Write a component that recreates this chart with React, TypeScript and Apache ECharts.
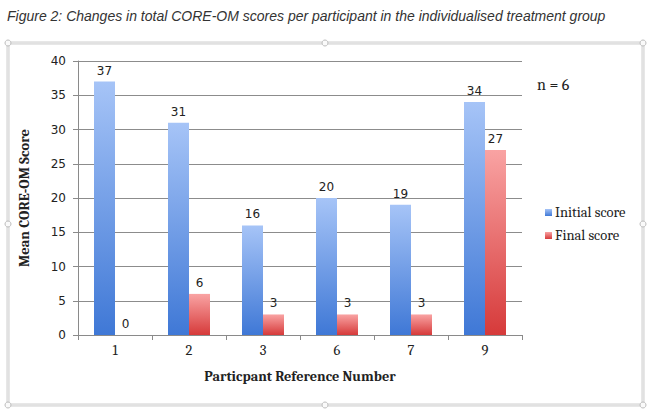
import { useEffect, useRef } from 'react';
import * as echarts from 'echarts';

const participants = ['1', '2', '3', '6', '7', '9'];
const initialScores = [37, 31, 16, 20, 19, 34];
const finalScores = [0, 6, 3, 3, 3, 27];
const seriesNames = ['Initial score', 'Final score'];

const SERIF = 'Cambria, "Liberation Serif", serif';
const SANS = 'Verdana, "DejaVu Sans", sans-serif';

const grad = (top: string, bottom: string) =>
  new echarts.graphic.LinearGradient(0, 0, 0, 1, [
    { offset: 0, color: top },
    { offset: 1, color: bottom },
  ]);

export default function App() {
  const ref = useRef<HTMLDivElement>(null);

  useEffect(() => {
    if (!ref.current) return;
    const chart = echarts.init(ref.current, null, { renderer: 'svg' });
    const handles = [
      [8, 43], [325, 43], [643, 43],
      [8, 224], [643, 224],
      [8, 405], [325, 405], [643, 405],
    ];
    chart.setOption({
      animation: false,
      backgroundColor: '#fff',
      title: {
        text: 'Figure 2: Changes in total CORE-OM scores per participant in the individualised treatment group',
        left: 2,
        top: 4,
        textStyle: {
          fontFamily: 'Arial, "Liberation Sans", sans-serif',
          fontStyle: 'italic',
          fontWeight: 'normal',
          fontSize: 14,
          color: '#333',
        },
      },
      graphic: [
        {
          type: 'rect',
          shape: { x: 8, y: 43, width: 635, height: 362 },
          style: { fill: 'none', stroke: '#cfcfcf', lineWidth: 3 },
          z: -1,
        },
        {
          type: 'rect',
          shape: { x: 8, y: 43, width: 635, height: 362 },
          style: { fill: 'none', stroke: '#f4f4f4', lineWidth: 1 },
          z: -1,
        },
        ...handles.map(([x, y]) => ({
          type: 'circle',
          shape: { cx: x, cy: y, r: 3 },
          style: { fill: '#fafafa', stroke: '#bdbdbd', lineWidth: 1 },
          z: 0,
        })),
        {
          type: 'text',
          left: 537,
          top: 77,
          style: { text: 'n = 6', font: `16px ${SERIF}`, fill: '#222' },
        },
      ],
      legend: {
        orient: 'vertical',
        left: 540,
        top: 200,
        itemWidth: 7,
        itemHeight: 7,
        itemGap: 8,
        icon: 'rect',
        textStyle: { fontFamily: SERIF, fontSize: 14.5, color: '#222', padding: [0, 0, 0, -2] },
        data: seriesNames,
      },
      grid: { left: 78, right: 128, top: 61, bottom: 76 },
      xAxis: {
        type: 'category',
        data: participants,
        name: 'Particpant Reference Number',
        nameLocation: 'middle',
        nameGap: 34,
        nameTextStyle: { fontFamily: SERIF, fontWeight: 'bold', fontSize: 14.3, color: '#222' },
        axisLine: { lineStyle: { color: '#8a8a8a' } },
        axisTick: { show: true, length: 5, lineStyle: { color: '#8a8a8a' } },
        axisLabel: { fontFamily: SERIF, fontSize: 14.5, color: '#222', margin: 8 },
      },
      yAxis: {
        type: 'value',
        min: 0,
        max: 40,
        interval: 5,
        name: 'Mean CORE-OM Score',
        nameLocation: 'middle',
        nameGap: 46,
        nameTextStyle: { fontFamily: SERIF, fontWeight: 'bold', fontSize: 14.5, color: '#222' },
        axisLine: { show: true, lineStyle: { color: '#8a8a8a' } },
        axisTick: { show: true, length: 5, lineStyle: { color: '#8a8a8a' } },
        axisLabel: { fontFamily: SANS, fontSize: 12, color: '#222', margin: 12 },
        splitLine: { lineStyle: { color: '#8c8c8c' } },
      },
      series: [
        {
          name: seriesNames[0],
          type: 'bar',
          data: initialScores,
          barWidth: 21,
          barGap: '0%',
          itemStyle: { color: grad('#a6c4f7', '#3f78d6') },
          label: {
            show: true,
            position: 'top',
            distance: 5,
            fontFamily: SANS,
            fontSize: 12,
            color: '#222',
          },
        },
        {
          name: seriesNames[1],
          type: 'bar',
          data: finalScores,
          barWidth: 21,
          itemStyle: { color: grad('#f9a3a3', '#d63a3a') },
          label: {
            show: true,
            position: 'top',
            distance: 5,
            fontFamily: SANS,
            fontSize: 12,
            color: '#222',
          },
        },
      ],
    });
    return () => chart.dispose();
  }, []);

  return (
    <div
      ref={ref}
      style={{ width: 650, height: 411, position: 'absolute', left: 0, top: 0 }}
    />
  );
}
